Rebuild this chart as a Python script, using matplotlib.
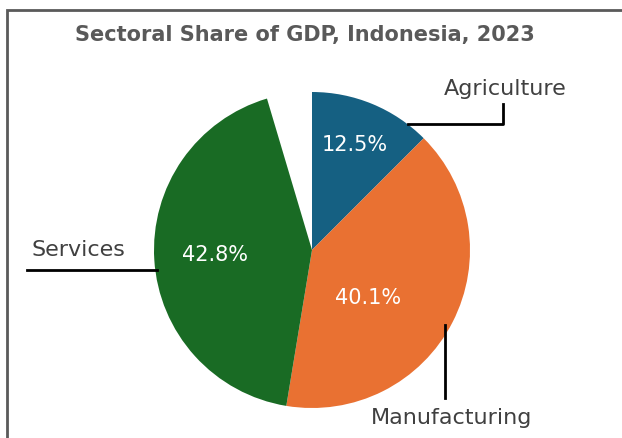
import matplotlib.pyplot as plt
from matplotlib.patches import Rectangle

sectors = ['Agriculture', 'Manufacturing', 'Services']
shares = [12.5, 40.1, 42.8]
colors = ['#156082', '#E97132', '#196B24']

W, H = 622, 438
fig = plt.figure(figsize=(W / 100, H / 100), dpi=100)
ax = fig.add_axes([0, 0, 1, 1])


def py(y):
    # positions measured from the top edge
    return H - y


# shares don't add to 100, the remainder is left blank
ax.pie([s / 100 for s in shares], colors=colors, startangle=90,
       counterclock=False, normalize=False, center=(312, py(250)),
       radius=158, frame=True)
ax.set_xlim(0, W)
ax.set_ylim(0, H)
ax.set_aspect('equal')
ax.axis('off')

# chart frame (runs past the right/bottom edge)
ax.add_patch(Rectangle((7, py(10) - 500), 700, 500, fill=False, ec='#5a5a5a',
                       lw=2, clip_on=False))

pct_pos = [(355, 145), (368, 298), (215, 255)]
for (x, y), s in zip(pct_pos, shares):
    ax.text(x, py(y), f'{s}%', color='white', fontsize=15, ha='center', va='center')

# category labels with leader lines
ax.plot([408, 503, 503], [py(124), py(124), py(104)], color='black', lw=2)
ax.text(505, py(89), sectors[0], color='#404040', fontsize=16, ha='center', va='center')
ax.plot([445, 445], [py(325), py(398)], color='black', lw=2)
ax.text(452, py(418), sectors[1], color='#404040', fontsize=16, ha='center', va='center')
ax.plot([27, 157], [py(270), py(270)], color='black', lw=2)
ax.text(78, py(250), sectors[2], color='#404040', fontsize=16, ha='center', va='center')

ax.text(305, py(35), 'Sectoral Share of GDP, Indonesia, 2023', color='#595959',
        fontsize=15, fontweight='bold', ha='center', va='center')

fig.savefig('out.png', dpi=100)
